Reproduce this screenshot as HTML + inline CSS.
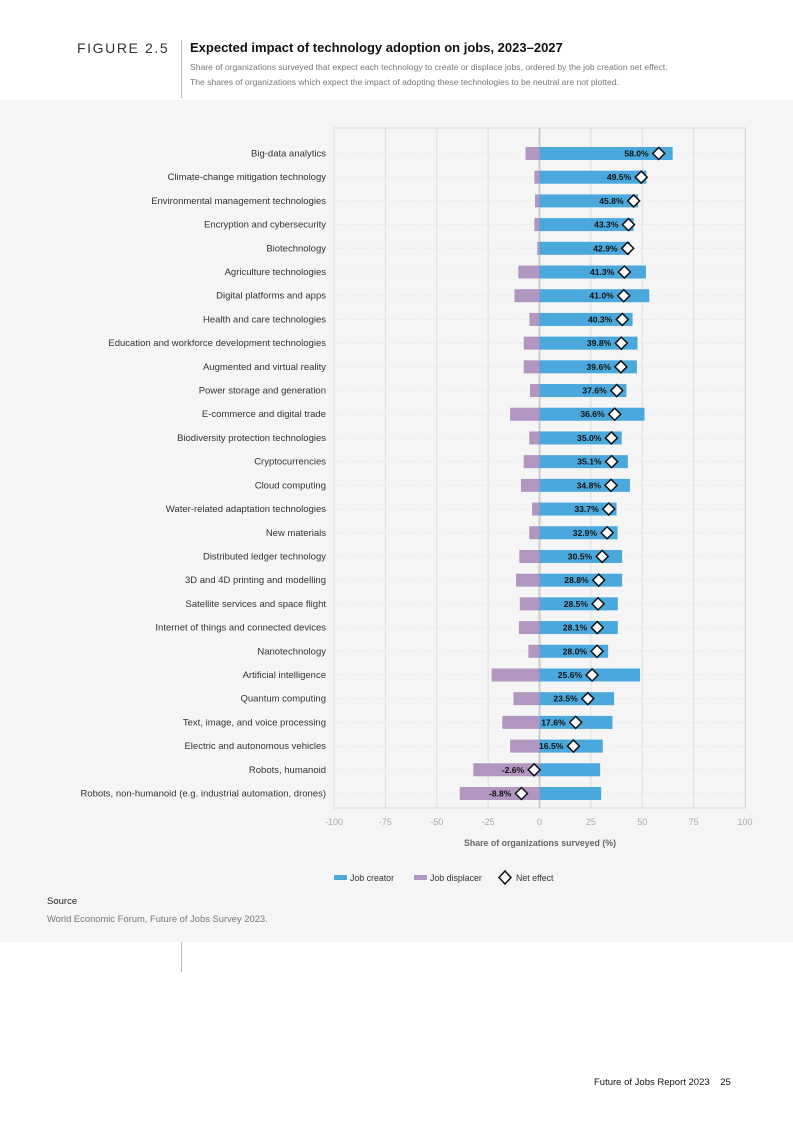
<!DOCTYPE html>
<html><head><meta charset="utf-8"><style>
body{margin:0;width:793px;height:1122px;background:#fff;font-family:"Liberation Sans",Arial,sans-serif;position:relative;overflow:hidden}
.abs{position:absolute}
</style></head><body>
<div class="abs" style="left:77px;top:40px;font-size:14px;letter-spacing:1.6px;color:#333">FIGURE 2.5</div>
<div class="abs" style="left:181px;top:40px;width:1px;height:58px;background:#bbb"></div>
<div class="abs" style="left:190px;top:40px;font-size:13px;font-weight:bold;color:#111">Expected impact of technology adoption on jobs, 2023–2027</div>
<div class="abs" style="left:190px;top:60px;font-size:8.6px;line-height:15px;color:#777">Share of organizations surveyed that expect each technology to create or displace jobs, ordered by the job creation net effect.<br>The shares of organizations which expect the impact of adopting these technologies to be neutral are not plotted.</div>
<div class="abs" style="left:0;top:100px;width:793px;height:842px;background:#f5f5f5"></div>
<div class="abs" style="left:181px;top:942px;width:1px;height:30px;background:#bbb"></div>
<svg class="abs" style="left:0;top:0" width="793" height="1122" id="chart"></svg>
<div class="abs" style="left:47px;top:896px;font-size:9.5px;color:#222">Source</div>
<div class="abs" style="left:47px;top:913px;font-size:9.4px;color:#777">World Economic Forum, Future of Jobs Survey 2023.</div>
<div class="abs" style="left:594px;top:1077px;font-size:9.5px;color:#111">Future of Jobs Report 2023&nbsp;&nbsp;&nbsp;&nbsp;25</div>
<script>
const categories=["Big-data analytics","Climate-change mitigation technology","Environmental management technologies","Encryption and cybersecurity","Biotechnology","Agriculture technologies","Digital platforms and apps","Health and care technologies","Education and workforce development technologies","Augmented and virtual reality","Power storage and generation","E-commerce and digital trade","Biodiversity protection technologies","Cryptocurrencies","Cloud computing","Water-related adaptation technologies","New materials","Distributed ledger technology","3D and 4D printing and modelling","Satellite services and space flight","Internet of things and connected devices","Nanotechnology","Artificial intelligence","Quantum computing","Text, image, and voice processing","Electric and autonomous vehicles","Robots, humanoid","Robots, non-humanoid (e.g. industrial automation, drones)"];
const creator=[64.8,52,48,45.8,44,51.8,53.4,45.3,47.7,47.4,42.3,51.1,40,43,44,37.5,38,40.2,40.2,38.1,38.1,33.4,48.9,36.3,35.5,30.8,29.5,30];
const displacer=[-6.8,-2.5,-2.2,-2.5,-1.1,-10.3,-12.2,-4.9,-7.7,-7.7,-4.6,-14.3,-5,-7.7,-9,-3.6,-5,-9.8,-11.4,-9.6,-10,-5.4,-23.3,-12.7,-18.1,-14.3,-32.2,-38.8];
const net=[58.0,49.5,45.8,43.3,42.9,41.3,41.0,40.3,39.8,39.6,37.6,36.6,35.0,35.1,34.8,33.7,32.9,30.5,28.8,28.5,28.1,28.0,25.6,23.5,17.6,16.5,-2.6,-8.8];
const ticks=[-100,-75,-50,-25,0,25,50,75,100];
const NS="http://www.w3.org/2000/svg",svg=document.getElementById('chart');
const x=v=>539.5+v*2.055;
const y=i=>153.5+i*(640/27);
function mk(t,a,p){const e=document.createElementNS(NS,t);for(const k in a)e.setAttribute(k,a[k]);(p||svg).appendChild(e);return e;}
let fr=mk('rect',{x:334,y:128,width:411.5,height:680,fill:'none',stroke:'#d8d8d8'});

let rl=mk('line',{x1:801,y1:128,x2:801,y2:808,stroke:'#d8d8d8'});

ticks.forEach(t=>{
 let g=mk('line',{x1:x(t),x2:x(t),y1:128,y2:808,stroke:t==0?'#ccc':'#dedede','stroke-width':t==0?2:1});
 
 let l=mk('text',{x:x(t),y:825,'font-size':9,fill:'#aaa','text-anchor':'middle'});l.textContent=t;
 
});
categories.forEach((c,i)=>{
 let cy=y(i);
 let d=mk('line',{x1:334,x2:745,y1:cy,y2:cy,stroke:'#e2e2e2','stroke-dasharray':'1,2'});
 
 let l=mk('text',{x:326,y:cy+3,'font-size':9.5,fill:'#333','text-anchor':'end'});l.textContent=c;
 
 let b1=mk('rect',{x:x(displacer[i]),y:cy-6.5,width:x(0)-x(displacer[i]),height:13,fill:'#b196c0'});
 
 let b2=mk('rect',{x:x(0),y:cy-6.5,width:x(creator[i])-x(0),height:13,fill:'#4aa8dc'});
 
 let nx=x(net[i]);
 let v=mk('text',{x:nx-10,y:cy+3,'font-size':8.6,'font-weight':'bold',fill:'#111','text-anchor':'end'});v.textContent=net[i].toFixed(1)+'%';
 
 let m=mk('polygon',{points:`${nx},${cy-6} ${nx+6},${cy} ${nx},${cy+6} ${nx-6},${cy}`,fill:'#fff',stroke:'#111','stroke-width':1.5});
 
});
let xt=mk('text',{x:540,y:846,'font-size':8.8,'font-weight':'bold',fill:'#666','text-anchor':'middle'});xt.textContent='Share of organizations surveyed (%)';

let lg=mk('g',{});
let r1=mk('rect',{x:334,y:875,width:13,height:5,fill:'#4aa8dc'},lg);
let t1=mk('text',{x:350,y:881,'font-size':8.8,fill:'#333'},lg);t1.textContent='Job creator';
let r2=mk('rect',{x:414,y:875,width:13,height:5,fill:'#b196c0'},lg);
let t2=mk('text',{x:430,y:881,'font-size':8.8,fill:'#333'},lg);t2.textContent='Job displacer';
let p3=mk('polygon',{points:'505,871 511,877.5 505,884 499,877.5',fill:'#fff',stroke:'#111','stroke-width':1.5},lg);
let t3=mk('text',{x:516,y:881,'font-size':8.8,fill:'#333'},lg);t3.textContent='Net effect';
</script>
</body></html>
